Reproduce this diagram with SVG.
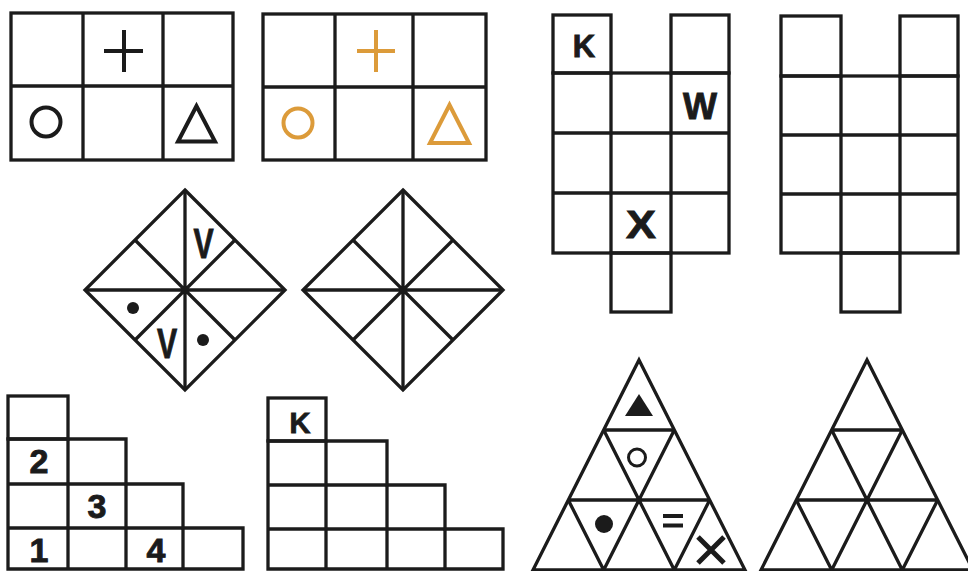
<svg xmlns="http://www.w3.org/2000/svg" width="968" height="571" viewBox="0 0 968 571">
<style>
.ln{fill:none;stroke:#1b1b1b;stroke-width:3.3;stroke-linejoin:miter}
.sym{fill:none;stroke:#1b1b1b;stroke-width:4}
.org{fill:none;stroke:#dc9b3a;stroke-width:4}
.txt{font-family:"Liberation Sans",Arial,sans-serif;font-weight:bold;fill:#1b1b1b;stroke:#1b1b1b;stroke-width:0.9;text-anchor:middle}
</style>
<rect width="968" height="571" fill="#ffffff"/>

<g id="grid1">
  <rect class="ln" x="11" y="13" width="222" height="147"/>
  <path class="ln" d="M83 13V160M163 13V160M11 86H233"/>
  <path class="sym" d="M104 51H143M124 30V72"/>
  <circle class="sym" cx="46" cy="122" r="14.5"/>
  <polygon class="sym" points="196.5,106 178,141.5 215,141.5"/>
</g>

<g id="grid2">
  <rect class="ln" x="263" y="14" width="223" height="146"/>
  <path class="ln" d="M335 14V160M413 14V160M263 87H486"/>
  <path class="org" d="M357 51H395M376 30V72"/>
  <circle class="org" cx="298" cy="123" r="14.5"/>
  <polygon class="org" points="449.5,105 430,143 469,143"/>
</g>

<g id="gridA">
  <rect class="ln" x="553" y="15" width="58" height="58"/>
  <rect class="ln" x="671" y="15" width="58" height="58"/>
  <rect class="ln" x="553" y="73" width="176" height="180"/>
  <path class="ln" d="M611 73V253M671 73V253M553 133H729M553 193H729"/>
  <rect class="ln" x="611" y="253" width="60" height="59"/>
  <text class="txt" x="584" y="57" font-size="31">K</text>
  <text class="txt" x="700" y="119" font-size="36">W</text>
  <text class="txt" transform="translate(641 238) scale(1.15 1)" font-size="39">X</text>
</g>

<g id="gridB">
  <rect class="ln" x="781" y="16" width="60" height="60"/>
  <rect class="ln" x="900" y="16" width="58" height="60"/>
  <rect class="ln" x="781" y="76" width="177" height="177"/>
  <path class="ln" d="M841 76V253M900 76V253M781 135H958M781 194H958"/>
  <rect class="ln" x="841" y="253" width="59" height="59"/>
</g>

<g id="diamond1">
  <polygon class="ln" points="185,190 285,290 185,390 85,290"/>
  <path class="ln" d="M185 190V390M85 290H285M135 240L235 340M235 240L135 340"/>
  <text class="txt" transform="translate(203.5 258) scale(0.72 1)" font-size="42">V</text>
  <text class="txt" transform="translate(167 358) scale(0.72 1)" font-size="42">V</text>
  <circle cx="133" cy="308" r="6" fill="#1b1b1b"/>
  <circle cx="203" cy="340" r="6" fill="#1b1b1b"/>
</g>

<g id="diamond2">
  <polygon class="ln" points="403,190 503,290 403,390 303,290"/>
  <path class="ln" d="M403 190V390M303 290H503M353 240L453 340M453 240L353 340"/>
</g>

<g id="stairs1">
  <rect class="ln" x="8" y="396" width="60" height="43"/>
  <path class="ln" d="M8 439H126V484H183V528H243V569H8Z"/>
  <path class="ln" d="M68 439V569M126 484V569M183 528V569M8 484H126M8 528H183"/>
  <text class="txt" x="39" y="473" font-size="34">2</text>
  <text class="txt" x="97" y="518" font-size="34">3</text>
  <text class="txt" x="39" y="562" font-size="34">1</text>
  <text class="txt" x="156" y="562" font-size="34">4</text>
</g>

<g id="stairs2">
  <rect class="ln" x="268" y="398" width="58" height="43"/>
  <path class="ln" d="M268 441H387V485H445V529H503V569H268Z"/>
  <path class="ln" d="M326 441V569M387 485V569M445 529V569M268 485H387M268 529H445"/>
  <text class="txt" x="300" y="433" font-size="29">K</text>
</g>

<g id="triangle1">
  <polygon class="ln" points="639,360 745,570 533,570"/>
  <path class="ln" d="M603.7 430H674.3M568.3 500H709.7M603.7 430L674.3 570M568.3 500L603.7 570M674.3 430L603.7 570M709.7 500L674.3 570"/>
  <polygon points="639,394 625,416 653,416" fill="#1b1b1b"/>
  <circle cx="637" cy="457.5" r="8.5" fill="none" stroke="#1b1b1b" stroke-width="3"/>
  <circle cx="604" cy="524" r="9" fill="#1b1b1b"/>
  <path d="M663 516H683M663 525.5H683" stroke="#1b1b1b" stroke-width="4" fill="none"/>
  <path d="M698 537L724 563M724 537L698 563" stroke="#1b1b1b" stroke-width="5" fill="none"/>
</g>

<g id="triangle2">
  <polygon class="ln" points="867,360 973,570 761,570"/>
  <path class="ln" d="M831.7 430H902.3M796.3 500H937.7M831.7 430L902.3 570M796.3 500L831.7 570M902.3 430L831.7 570M937.7 500L902.3 570"/>
</g>
</svg>
